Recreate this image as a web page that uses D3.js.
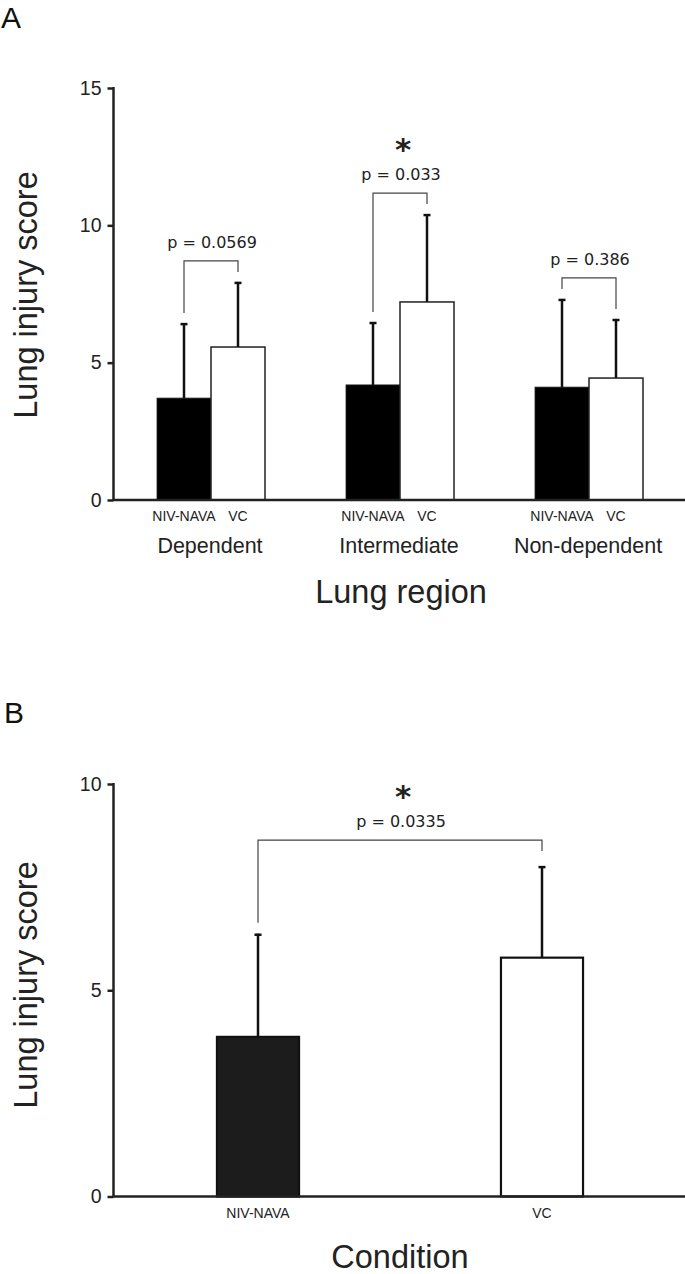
<!DOCTYPE html>
<html>
<head>
<meta charset="utf-8">
<script src="https://cdn.jsdelivr.net/npm/d3@7"></script>
<style>
  html, body { margin: 0; padding: 0; background: #fff; }
  svg { display: block; }
</style>
</head>
<body>
<svg id="chart" width="685" height="1274"></svg>
<script>
// ---------- DATA ----------
const regions = ["Dependent", "Intermediate", "Non-dependent"];
const conditions = ["NIV-NAVA", "VC"];
const regionMeans = { "NIV-NAVA": [3.71, 4.19, 4.11], "VC": [5.57, 7.21, 4.44] };
const regionErrTops = { "NIV-NAVA": [6.44, 6.48, 7.32], "VC": [7.94, 10.41, 6.59] };
const regionPValues = ["p = 0.0569", "p = 0.033", "p = 0.386"];
const regionSignificant = [false, true, false];
const yTicksA = [0, 5, 10, 15];

const overallMeans = [3.87, 5.79];
const overallErrTops = [6.37, 8.01];
const overallPValue = "p = 0.0335";
const overallSignificant = true;
const yTicksB = [0, 5, 10];

// ---------- SETUP ----------
const svg = d3.select("#chart");
const sans = "'Liberation Sans', Arial, sans-serif";
const pFont = "'DejaVu Sans', sans-serif";
const fillFor = { "NIV-NAVA": "#000", "VC": "#fff" };

function drawErr(g, x, y0, y1) {
  g.append("line").attr("x1", x).attr("x2", x).attr("y1", y0).attr("y2", y1)
    .attr("stroke", "#111").attr("stroke-width", 2.5);
  g.append("line").attr("x1", x - 3.5).attr("x2", x + 3.5).attr("y1", y1 + 1).attr("y2", y1 + 1)
    .attr("stroke", "#111").attr("stroke-width", 2.5);
}

function drawBracket(g, xl, xr, yl, yr, yb, label, sig) {
  g.append("path")
    .attr("d", `M${xl},${yl}V${yb}H${xr}V${yr}`)
    .attr("fill", "none").attr("stroke", "#444").attr("stroke-width", 1.2);
  const cx = (xl + xr) / 2 + 1;
  if (sig) {
    g.append("text").attr("x", cx + 2).attr("y", yb - 33).attr("text-anchor", "middle")
      .attr("font-family", "'DejaVu Sans', sans-serif").attr("font-size", 31)
      .attr("font-weight", "bold").attr("fill", "#222").text("*");
  }
  g.append("text").attr("x", cx).attr("y", yb - 13).attr("text-anchor", "middle")
    .attr("font-family", pFont).attr("font-size", 16).attr("fill", "#222").text(label);
}

// ---------- PANEL A ----------
(function () {
  const x0 = 113.5, xEnd = 685;
  const y = d3.scaleLinear().domain([0, 15]).range([500, 88]);
  const xGroup = d3.scaleBand().domain(regions).range([116.5, 683.5]).paddingInner(0).paddingOuter(0);
  const xCond = d3.scaleBand().domain(conditions).range([0, xGroup.bandwidth()]).paddingInner(0).paddingOuter(0.75);
  const g = svg.append("g");

  g.append("text").attr("x", 1).attr("y", 28).attr("font-family", sans).attr("font-size", 30)
    .attr("fill", "#111").text("A");

  regions.forEach((r, i) => {
    conditions.forEach(c => {
      const bx = xGroup(r) + xCond(c);
      const v = regionMeans[c][i];
      g.append("rect").attr("x", bx).attr("y", y(v)).attr("width", xCond.bandwidth())
        .attr("height", y(0) - y(v)).attr("fill", fillFor[c])
        .attr("stroke", "#222").attr("stroke-width", c === "VC" ? 1.5 : 0.8);
      drawErr(g, bx + xCond.bandwidth() / 2, y(v), y(regionErrTops[c][i]));
    });
    const xl = xGroup(r) + xCond("NIV-NAVA") + xCond.bandwidth() / 2;
    const xr = xGroup(r) + xCond("VC") + xCond.bandwidth() / 2;
    const tl = y(regionErrTops["NIV-NAVA"][i]), tr = y(regionErrTops["VC"][i]);
    const yb = Math.min(tl, tr) - 21;
    drawBracket(g, xl, xr, tl - 10, tr - 10, yb, regionPValues[i], regionSignificant[i]);

    conditions.forEach(c => {
      g.append("text").attr("x", xGroup(r) + xCond(c) + xCond.bandwidth() / 2).attr("y", 521)
        .attr("text-anchor", "middle").attr("font-family", sans).attr("font-size", 14)
        .attr("fill", "#222").text(c);
    });
    g.append("text").attr("x", xGroup(r) + xGroup.bandwidth() / 2 - 1).attr("y", 553)
      .attr("text-anchor", "middle").attr("font-family", sans).attr("font-size", 21.5)
      .attr("fill", "#222").text(r);
  });

  const axis = d3.axisLeft(y).tickValues(yTicksA).tickSize(6).tickSizeOuter(0).tickPadding(6);
  const ag = g.append("g").attr("transform", `translate(${x0},0)`).call(axis);
  ag.select(".domain").remove();
  ag.selectAll(".tick line").attr("stroke", "#222").attr("stroke-width", 2.5);
  ag.selectAll(".tick text").attr("font-family", sans).attr("font-size", 19.5).attr("fill", "#222");
  g.append("line").attr("x1", x0).attr("x2", x0).attr("y1", y(0) + 1).attr("y2", y(15) - 1)
    .attr("stroke", "#222").attr("stroke-width", 2.5);
  g.append("line").attr("x1", x0).attr("x2", xEnd).attr("y1", y(0)).attr("y2", y(0))
    .attr("stroke", "#222").attr("stroke-width", 2.5);

  g.append("text").attr("transform", `translate(37,295) rotate(-90)`)
    .attr("text-anchor", "middle").attr("font-family", sans).attr("font-size", 32.5)
    .attr("fill", "#222").text("Lung injury score");
  g.append("text").attr("x", 401).attr("y", 603).attr("text-anchor", "middle")
    .attr("font-family", sans).attr("font-size", 32.5).attr("fill", "#222").text("Lung region");
})();

// ---------- PANEL B ----------
(function () {
  const x0 = 113.5, xEnd = 685;
  const y = d3.scaleLinear().domain([0, 10]).range([1196.5, 784]);
  const x = d3.scaleBand().domain(conditions).range([116, 684]).paddingInner(0.711).paddingOuter(0.3555);
  const g = svg.append("g");

  g.append("text").attr("x", 4).attr("y", 723).attr("font-family", sans).attr("font-size", 30)
    .attr("fill", "#111").text("B");

  conditions.forEach((c, i) => {
    const v = overallMeans[i];
    g.append("rect").attr("x", x(c)).attr("y", y(v)).attr("width", x.bandwidth())
      .attr("height", y(0) - y(v)).attr("fill", c === "VC" ? "#fff" : "#1c1c1c")
      .attr("stroke", "#111").attr("stroke-width", 2.2);
    drawErr(g, x(c) + x.bandwidth() / 2, y(v), y(overallErrTops[i]));
    g.append("text").attr("x", x(c) + x.bandwidth() / 2).attr("y", 1218)
      .attr("text-anchor", "middle").attr("font-family", sans).attr("font-size", 14)
      .attr("fill", "#222").text(c);
  });
  const xl = x("NIV-NAVA") + x.bandwidth() / 2, xr = x("VC") + x.bandwidth() / 2;
  const tl = y(overallErrTops[0]), tr = y(overallErrTops[1]);
  drawBracket(g, xl, xr, tl - 11, tr - 15, Math.min(tl, tr) - 26, overallPValue, overallSignificant);

  const axis = d3.axisLeft(y).tickValues(yTicksB).tickSize(6).tickSizeOuter(0).tickPadding(6);
  const ag = g.append("g").attr("transform", `translate(${x0},0)`).call(axis);
  ag.select(".domain").remove();
  ag.selectAll(".tick line").attr("stroke", "#222").attr("stroke-width", 2.5);
  ag.selectAll(".tick text").attr("font-family", sans).attr("font-size", 19.5).attr("fill", "#222");
  g.append("line").attr("x1", x0).attr("x2", x0).attr("y1", y(0) + 1).attr("y2", y(10) - 1)
    .attr("stroke", "#222").attr("stroke-width", 2.5);
  g.append("line").attr("x1", x0).attr("x2", xEnd).attr("y1", y(0)).attr("y2", y(0))
    .attr("stroke", "#222").attr("stroke-width", 2.5);

  g.append("text").attr("transform", `translate(37,985) rotate(-90)`)
    .attr("text-anchor", "middle").attr("font-family", sans).attr("font-size", 32.5)
    .attr("fill", "#222").text("Lung injury score");
  g.append("text").attr("x", 400).attr("y", 1268).attr("text-anchor", "middle")
    .attr("font-family", sans).attr("font-size", 32.5).attr("fill", "#222").text("Condition");
})();
</script>
</body>
</html>
